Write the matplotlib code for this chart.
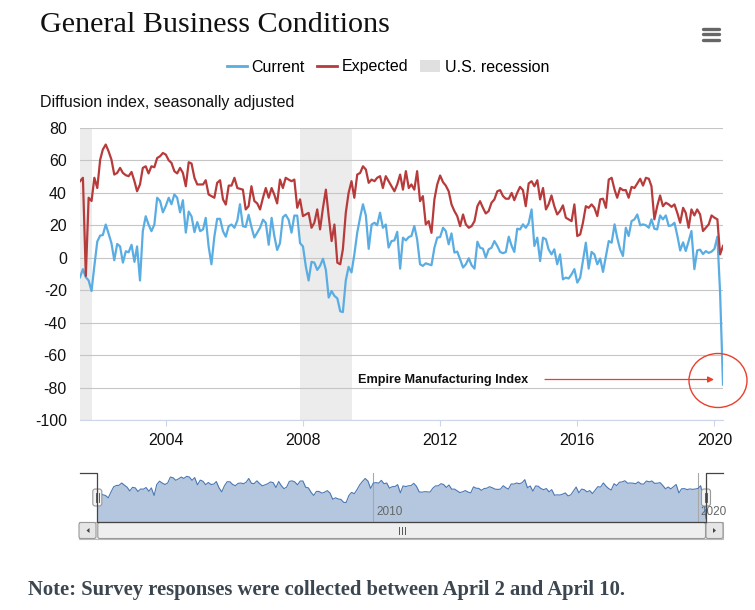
import matplotlib
matplotlib.use("Agg")
import matplotlib.pyplot as plt
from matplotlib.lines import Line2D
from matplotlib.patches import Patch, Ellipse, FancyBboxPatch, Rectangle, Polygon
import pandas as pd

plt.rcParams["font.family"] = ["Liberation Sans", "DejaVu Sans"]
plt.rcParams["axes.unicode_minus"] = False

# monthly readings, July 2001 .. April 2020 (one row per calendar year)
current = [
    -12, -7, -12, -14, -20.5, -5,
    10, 13.7, 14, 20.5, 15, 9, -1.5, 8.5, 7, -3, 4, 3.4,
    8, -2.5, 7, -14, 16.4, 25.6, 20.5, 16.4, 20.5, 37, 35, 28,
    32, 37, 33, 39, 37, 28, 35.5, 15.5, 28.5, 25.5, 15.8, 22,
    16.4, 17.5, 24.6, 7, -4, 13, 24, 24, 16.4, 13, 19.5, 20.5,
    18.5, 23, 33, 19.5, 19, 26.5, 19, 12.5, 15.5, 18.5, 23.5, 21.5,
    8, 24.6, 13.7, 4.8, 9, 25, 26.5, 23.5, 15.5, 26, 26, 9,
    7, -5.6, -14, -2.5, -3, -7.5, -5, -0.6, -7.5, -24.5, -20.5, -23.5,
    -25, -33, -33.5, -14, -5.6, -9, 2, 15.5, 25, 33, 26, 5.5,
    20.5, 21.6, 20, 27.8, 18.5, 20.5, 6.3, 10.3, 10.7, 16, -6.7, 12.4,
    10.7, 12.8, 13.4, 19.6, 11.4, -4, -5, -3.4, -4, -4.6, 6.2, 12.4,
    12.8, 18.5, 16.5, 8.3, 15, 3.2, 3.8, -1, -6, -4, -0.3, -4.6,
    -6.7, 9.9, 6.2, 5.6, 0.1, 5.2, 6.2, 10.3, 7.3, 3.6, 2.8, 3.6,
    13, 7.3, 3.6, 17.9, 17.5, 20.6, 18.5, 21.2, 29.8, 7.3, 12.4, -2,
    12.4, 11.4, 5.2, 2.1, 5.2, -4, 2.1, -13.3, -12.2, -12.8, -10.2, -7,
    -15.3, -12.2, -2, 9.3, -6.7, 3.6, 2.1, -4, -0.5, -8.7, 1.1, 10.3,
    9.3, 20.6, 12.4, 5.2, 1.1, 18.5, 13.4, 22.6, 23.7, 26.7, 20, 20.6,
    20, 18.5, 23.7, 17.9, 17.5, 26.1, 23.7, 26.1, 19.6, 20, 21.6, 13.8,
    4.5, 9.5, 4.2, 10.2, 16.5, -7, 4.5, 5, 2.3, 4.1, 3, 3.8,
    5.5, 13, -21.5, -78.2,
]
expected = [
    47.2, 49.3, -11.2, 37, 35, 49.3,
    43, 60.5, 66.7, 69.8, 65.7, 60.5, 51.3, 52.3, 55.4, 52.3, 50.9, 50.3,
    52.9, 47.2, 41, 45.2, 55.4, 56.4, 52, 56.4, 55.8, 61.5, 62.6, 64.6,
    63.6, 60.1, 58.5, 53.4, 52, 55.4, 52.3, 44.1, 58.9, 58.1, 49.3, 45.2,
    45.2, 45.2, 47.8, 39, 38, 37, 46.2, 47.8, 36, 32.8, 44.5, 44.5,
    49.3, 43, 42.5, 42, 29.8, 31.8, 44.1, 35, 33.5, 29.8, 37, 43,
    37, 43, 39, 33.5, 48.2, 43, 49.3, 48.2, 47.2, 48.2, 30.8, 36,
    25.7, 26.7, 27.7, 18.5, 21.6, 29.8, 17.5, 30.8, 42, 25.7, 10.3, 20.5,
    -3, -4, 5.2, 27.7, 40, 47.2, 37, 51.3, 52.3, 56.4, 54.4, 46.2,
    48.2, 47.2, 49.3, 50.3, 43, 50.3, 47.2, 44.1, 41, 45.2, 51.3, 42,
    53.4, 43, 45.2, 42, 53.4, 34.9, 38, 20.6, 22.6, 15.4, 36, 45.2,
    50.7, 46.6, 44.5, 41, 32.9, 28.8, 25.7, 19.5, 26.7, 20.6, 18.5, 19.5,
    22.6, 31.8, 34.9, 30.8, 27.3, 28.8, 33.9, 36, 41, 41.7, 38, 36.4,
    36.4, 40, 35.5, 40, 43.7, 41.7, 31.8, 45.8, 47.2, 44.1, 47.8, 36,
    43, 29.8, 32.9, 38.4, 31.8, 26.7, 28.8, 32.3, 24.7, 23.7, 22.6, 32.9,
    13.4, 14.4, 21.6, 31.8, 30.8, 32.9, 30.8, 25.7, 36, 36.4, 30.8, 48.2,
    49.3, 42, 37, 43, 41.7, 41.7, 37, 43.7, 43, 45.8, 48.7, 44.5,
    49.3, 48.7, 44.1, 23.7, 31.8, 38.4, 31.8, 33.9, 32.9, 31.4, 32.9, 27.7,
    21.6, 30.8, 27.7, 18.5, 29.8, 26.1, 29.8, 26.7, 16.5, 18.5, 20.6, 26.1,
    24.7, 23.7, 2.1, 7.3,
]
months = pd.date_range("2001-07-01", periods=len(current), freq="MS")

recessions = [("2001-03-01", "2001-11-01"), ("2007-12-01", "2009-06-01")]
year_ticks = [2004, 2008, 2012, 2016, 2020]
nav_years = [2010, 2020]
y_ticks = list(range(-100, 81, 20))

W, H = 755, 610
blue = "#5aade2"
red = "#b83b3b"
shade = "#ececec"
note_red = "#e8402c"


def box(l, t, r, b):
    # pixel box -> figure fraction
    return [l / W, 1 - b / H, (r - l) / W, (b - t) / H]


fig = plt.figure(figsize=(W / 100, H / 100), dpi=100)

# main chart
ax = fig.add_axes(box(80, 128, 723, 420))
for start, end in recessions:
    ax.axvspan(pd.Timestamp(start), pd.Timestamp(end), color=shade, lw=0, zorder=0)
ax.plot(months, current, color=blue, lw=1.6, zorder=3)
ax.plot(months, expected, color=red, lw=1.6, zorder=4)
ax.set_xlim(months[0], months[-1])
ax.set_ylim(-100, 80)
ax.set_yticks(y_ticks)
ax.set_xticks([pd.Timestamp(f"{y}-01-01") for y in year_ticks], [str(y) for y in year_ticks])
ax.set_axisbelow(True)
ax.grid(axis="y", color="#c6c6c6", lw=0.8)
for s in ["left", "right", "top"]:
    ax.spines[s].set_visible(False)
ax.spines["bottom"].set_color("#ccd6eb")
ax.tick_params(axis="y", length=0, pad=9.5, labelsize=11.5, labelcolor="#111111")
ax.tick_params(axis="x", length=4.5, color="#ccd6eb", pad=5, labelsize=11.5, labelcolor="#111111")

# navigator
nav = fig.add_axes(box(97.3, 473.3, 706, 521.7))
nav_floor = -86.6
nav.fill_between(months, current, nav_floor, color="#b5c7de", lw=0)
nav.plot(months, current, color="#4a78b4", lw=0.8)
nav.set_xlim(months[0], months[-1])
nav.set_ylim(nav_floor, 47.4)
nav.set_xticks([pd.Timestamp(f"{y}-01-01") for y in nav_years])
nav.set_yticks([])
nav.grid(axis="x", color="#a8a8a8", lw=0.8)
nav.tick_params(axis="x", length=0, labelbottom=False)
nav.patch.set_alpha(0)
for s in nav.spines.values():
    s.set_visible(False)
for y in nav_years:
    nav.annotate(str(y), xy=(pd.Timestamp(f"{y}-01-01"), 0), xycoords=("data", "axes fraction"),
                 xytext=(3, 4), textcoords="offset pixels", fontsize=8.5, color="#666666",
                 ha="left", va="bottom")

# decorations in pixel coordinates
deco = fig.add_axes([0, 0, 1, 1])
deco.set_xlim(0, W)
deco.set_ylim(H, 0)
deco.axis("off")
deco.patch.set_alpha(0)

deco.text(40, 32, "General Business Conditions", family=["Liberation Serif", "DejaVu Serif"],
          fontsize=21.7, va="baseline", color="#111111")
for yy in (28.5, 34, 39.5):
    deco.plot([703, 719], [yy, yy], color="#666666", lw=2.4, solid_capstyle="round")

handles = [Line2D([], [], color=blue, lw=2), Line2D([], [], color=red, lw=2),
           Patch(facecolor="#e0e0e0", edgecolor="none")]
fig.legend(handles, ["Current", "Expected", "U.S. recession"], loc="center",
           bbox_to_anchor=(388 / W, 1 - 67 / H), ncol=3, frameon=False, fontsize=11.5,
           handlelength=1.25, handletextpad=0.3, columnspacing=0.75, handleheight=0.75)

deco.text(40, 103, "Diffusion index, seasonally adjusted", fontsize=11.5, va="center", color="#111111")

# annotation of the April reading
deco.text(358, 380, "Empire Manufacturing Index", fontsize=9.1, weight="bold", va="center", color="#111111")
deco.annotate("", xy=(714, 379.5), xytext=(545, 379.5),
              arrowprops=dict(arrowstyle="-|>", color=note_red, lw=0.9, mutation_scale=9,
                              shrinkA=0, shrinkB=0))
deco.add_patch(Ellipse((718, 380.5), 58, 54, fill=False, ec=note_red, lw=1.0))

# navigator outline, handles and scrollbar
deco.plot([80, 97.3, 97.3, 706, 706, 723], [473.3, 473.3, 521.7, 521.7, 473.3, 473.3],
          color="#444444", lw=0.9)
deco.add_patch(Rectangle((79, 522), 644, 17, fc="#f2f2f2", ec="#bbbbbb", lw=0.8))
deco.add_patch(FancyBboxPatch((97.8, 522.5), 607.7, 16, boxstyle="round,pad=0,rounding_size=2",
                              fc="#efefef", ec="#9a9a9a", lw=0.8))
for bx in (79, 706):
    deco.add_patch(FancyBboxPatch((bx, 522.5), 17, 16, boxstyle="round,pad=0,rounding_size=2",
                                  fc="#e6e6e6", ec="#9a9a9a", lw=0.8))
deco.add_patch(Polygon([[89.5, 528], [89.5, 533], [86.5, 530.5]], closed=True, fc="#444444", ec="none"))
deco.add_patch(Polygon([[713, 528], [713, 533], [716, 530.5]], closed=True, fc="#444444", ec="none"))
for gx in (399, 402, 405):
    deco.plot([gx, gx], [527, 534], color="#555555", lw=0.7)
for hx in (97.3, 706):
    deco.add_patch(FancyBboxPatch((hx - 4.5, 489), 9, 17, boxstyle="round,pad=0,rounding_size=2.5",
                                  fc="#f4f4f4", ec="#999999", lw=0.8))
    for dx in (-1.3, 1.3):
        deco.plot([hx + dx, hx + dx], [493, 502], color="#444444", lw=0.6)

deco.text(28, 590, "Note: Survey responses were collected between April 2 and April 10.",
          family=["Liberation Serif", "DejaVu Serif"], weight="bold", fontsize=14.9,
          va="center", color="#3b4650")

fig.savefig("out.png", dpi=100)
